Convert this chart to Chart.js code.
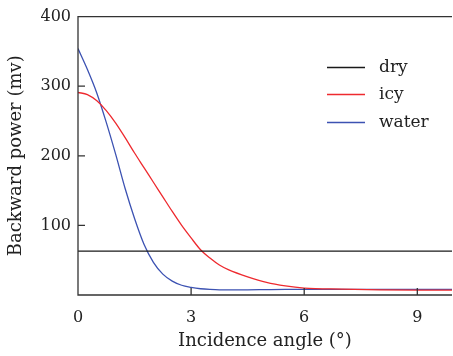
<!DOCTYPE html>
<html>
<head>
<meta charset="utf-8">
<script src="https://cdn.jsdelivr.net/npm/chart.js@4.4.0/dist/chart.umd.min.js"></script>
<style>
  html, body { margin: 0; padding: 0; background: #fff; }
  #wrap { width: 453px; height: 356px; }
</style>
</head>
<body>
<div id="wrap"><canvas id="chart"></canvas></div>
<script>
const angles = [0, 0.25, 0.5, 0.75, 1, 1.25, 1.5, 1.75, 2, 2.25, 2.5, 2.75, 3, 3.25, 3.5, 3.75, 4, 4.5, 5, 5.5, 6, 7, 8, 9, 10];
const dry    = [63, 63, 63, 63, 63, 63, 63, 63, 63, 63, 63, 63, 63, 63, 63, 63, 63, 63, 63, 63, 63, 63, 63, 63, 63];
const icy    = [291, 288, 279, 265, 247, 226, 204, 183, 162, 141, 120, 100, 82, 65, 53, 43, 36, 26, 18, 13, 10, 8.5, 7.5, 7, 7];
const water  = [354, 324, 290, 248, 202, 153, 110, 73, 47, 30, 20, 14, 11, 9, 8, 7.5, 7.5, 7.5, 7.8, 8, 8, 8, 8, 8, 8];
const seriesNames = ['dry', 'icy', 'water'];
const xTicks = [0, 3, 6, 9];
const yTicks = [100, 200, 300, 400];

const font = 'DejaVu Serif';
const ink = '#222';

const toPts = arr => arr.map((v, i) => ({ x: angles[i], y: v }));

// axes frame, inward tick marks and the legend box inside the plot
const frame = {
  id: 'frame',
  afterDraw(chart) {
    const { ctx, chartArea: a, scales: { x, y } } = chart;
    ctx.save();
    ctx.strokeStyle = '#333';
    ctx.lineWidth = 1.3;
    ctx.beginPath();
    ctx.moveTo(a.right, a.top); ctx.lineTo(a.left, a.top);
    ctx.lineTo(a.left, a.bottom); ctx.lineTo(a.right, a.bottom);
    x.ticks.forEach(t => {
      const px = x.getPixelForValue(t.value);
      ctx.moveTo(px, a.bottom); ctx.lineTo(px, a.bottom - 7);
    });
    y.ticks.forEach(t => {
      const py = y.getPixelForValue(t.value);
      ctx.moveTo(a.left, py); ctx.lineTo(a.left + 7, py);
    });
    ctx.stroke();

    const lx = a.right - 125, ly = a.top + 50;
    ctx.font = '17px "' + font + '"';
    ctx.textBaseline = 'middle';
    ctx.fillStyle = ink;
    chart.data.datasets.forEach((ds, i) => {
      const yy = Math.round(ly + i * 27.5) + 0.5;
      ctx.strokeStyle = ds.borderColor;
      ctx.lineWidth = 1.3;
      ctx.beginPath();
      ctx.moveTo(lx, yy); ctx.lineTo(lx + 38, yy);
      ctx.stroke();
      ctx.fillText(ds.label, lx + 52, yy);
    });
    ctx.restore();
  }
};

new Chart(document.getElementById('chart'), {
  type: 'line',
  data: {
    datasets: [
      { label: seriesNames[0], data: toPts(dry),   borderColor: '#1a1a1a' },
      { label: seriesNames[1], data: toPts(icy),   borderColor: '#ee2a2f' },
      { label: seriesNames[2], data: toPts(water), borderColor: '#3c52b2' },
    ],
  },
  options: {
    responsive: true, maintainAspectRatio: false, animation: false,
    layout: { padding: { top: 15, right: 1, left: 0, bottom: 0 } },
    elements: {
      point: { radius: 0 },
      line: { borderWidth: 1.3, cubicInterpolationMode: 'monotone', fill: false },
    },
    plugins: { legend: { display: false }, tooltip: { enabled: false } },
    scales: {
      x: {
        type: 'linear', min: 0, max: 9.92,
        afterBuildTicks: s => { s.ticks = xTicks.map(v => ({ value: v })); },
        afterFit: s => { s.height = 61; },
        grid: { display: false, drawTicks: false },
        border: { display: false },
        ticks: { color: ink, font: { family: font, size: 16 }, padding: 13, maxRotation: 0 },
        title: { display: true, text: 'Incidence angle (°)', color: ink, font: { family: font, size: 18 }, padding: { top: 0, bottom: 4 } },
      },
      y: {
        min: 0, max: 400,
        afterBuildTicks: s => { s.ticks = yTicks.map(v => ({ value: v })); },
        afterFit: s => { s.width = 78; },
        grid: { display: false, drawTicks: false },
        border: { display: false },
        ticks: { color: ink, font: { family: font, size: 16 }, padding: 7 },
        title: { display: true, text: 'Backward power (mv)', color: ink, font: { family: font, size: 18 }, padding: { top: 6, bottom: 0 } },
      },
    },
  },
  plugins: [frame],
});
</script>
</body>
</html>
